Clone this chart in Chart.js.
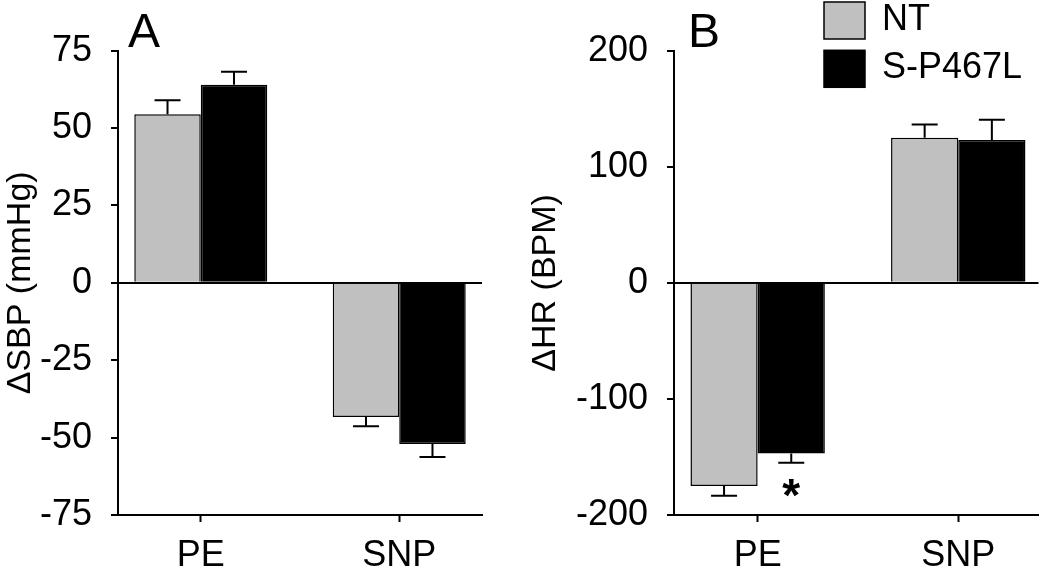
<!DOCTYPE html>
<html>
<head>
<meta charset="utf-8">
<script src="https://cdn.jsdelivr.net/npm/chart.js@4/dist/chart.umd.min.js"></script>
<style>
  html, body { margin: 0; padding: 0; background: #fff; }
  #wrap { display: flex; width: 1050px; height: 572px; }
  canvas { display: block; }
</style>
</head>
<body>
<div id="wrap">
  <canvas id="chartA" width="525" height="572"></canvas>
  <canvas id="chartB" width="525" height="572"></canvas>
</div>
<script>
// data
const categories = ['PE', 'SNP'];
const catPos = [0, 1];
const seriesNames = ['NT', 'S-P467L'];

const sbpNT = [54.5, -43.3];
const sbpNTErr = [4.5, 3.0];
const sbpSP = [64.0, -52.1];
const sbpSPErr = [4.2, 4.2];
const sbpTicks = [-75, -50, -25, 0, 25, 50, 75];

const hrNT = [-175, 125];
const hrNTErr = [8.5, 11.5];
const hrSP = [-147, 123];
const hrSPErr = [8, 17.5];
const hrNTSig = [false, false];
const hrSPSig = [true, false];
const hrTicks = [-200, -100, 0, 100, 200];

const FONT = '"Liberation Sans", Arial, sans-serif';
Chart.defaults.font.family = FONT;
Chart.defaults.color = '#000';

function toPoints(vals) {
  return vals.map((v, i) => ({ x: catPos[i], y: v }));
}

// error bars, significance star, panel letter, legend
const marks = {
  id: 'marks',
  afterDatasetsDraw(chart) {
    const ctx = chart.ctx;
    const yScale = chart.scales.y;
    ctx.save();
    ctx.strokeStyle = '#000';
    ctx.lineWidth = 2;
    chart.data.datasets.forEach((ds, i) => {
      chart.getDatasetMeta(i).data.forEach((bar, j) => {
        const v = ds.data[j].y;
        const end = yScale.getPixelForValue(v + Math.sign(v) * ds.errors[j]);
        ctx.beginPath();
        ctx.moveTo(bar.x, bar.y);
        ctx.lineTo(bar.x, end);
        ctx.moveTo(bar.x - 13, end);
        ctx.lineTo(bar.x + 13, end);
        ctx.stroke();
        if (ds.sig && ds.sig[j]) {
          ctx.fillStyle = '#000';
          ctx.font = 'bold 46px ' + FONT;
          ctx.textAlign = 'center';
          ctx.textBaseline = 'alphabetic';
          ctx.fillText('*', bar.x, v < 0 ? end + 48 : end - 8);
        }
      });
    });
    ctx.restore();
  },
  afterDraw(chart, args, o) {
    const ctx = chart.ctx;
    const area = chart.chartArea;
    ctx.save();
    ctx.fillStyle = '#000';
    ctx.font = '48px ' + FONT;
    ctx.textAlign = 'left';
    ctx.textBaseline = 'alphabetic';
    ctx.fillText(o.letter, area.left + o.letterDx, area.top - 4);
    if (o.legend) {
      chart.data.datasets.forEach((ds, i) => {
        const x = area.left + 150;
        const y = 2 + i * 48.3;
        ctx.fillStyle = ds.backgroundColor;
        ctx.fillRect(x, y, 41, 37);
        ctx.lineWidth = 1.5;
        ctx.strokeStyle = '#000';
        ctx.strokeRect(x, y, 41, 37);
        ctx.fillStyle = '#000';
        ctx.font = '36px ' + FONT;
        ctx.textBaseline = 'middle';
        ctx.fillText(ds.label, x + 58, y + 18);
      });
    }
    ctx.restore();
  }
};

function makePanel(id, cfg) {
  const barStyle = { borderColor: '#000', borderWidth: 1.5, categoryPercentage: 0.67, barPercentage: 1.0 };
  return new Chart(document.getElementById(id), {
    type: 'bar',
    data: {
      datasets: [
        Object.assign({ label: seriesNames[0], data: toPoints(cfg.nt), errors: cfg.ntErr, sig: cfg.ntSig, backgroundColor: '#c0c0c0' }, barStyle),
        Object.assign({ label: seriesNames[1], data: toPoints(cfg.sp), errors: cfg.spErr, sig: cfg.spSig, backgroundColor: '#000' }, barStyle)
      ]
    },
    options: {
      responsive: false,
      animation: false,
      events: [],
      layout: { padding: { top: 50.7, right: cfg.padRight, bottom: 0, left: 0 } },
      plugins: {
        legend: { display: false },
        tooltip: { enabled: false },
        marks: { letter: cfg.letter, letterDx: cfg.letterDx, legend: cfg.legend }
      },
      scales: {
        x: {
          type: 'linear',
          min: cfg.xMin,
          max: cfg.xMax,
          offset: false,
          afterBuildTicks: s => { s.ticks = catPos.map(v => ({ value: v })); },
          afterFit: s => { s.height = 57; },
          ticks: {
            callback: v => categories[catPos.indexOf(v)],
            font: { size: 36 },
            color: '#000',
            padding: 12,
            maxRotation: 0,
            autoSkip: false
          },
          grid: { offset: false, drawOnChartArea: false, tickLength: 7, tickColor: '#000', tickWidth: 2 },
          border: { color: '#000', width: 2 }
        },
        y: {
          min: cfg.yTicks[0],
          max: cfg.yTicks[cfg.yTicks.length - 1],
          afterBuildTicks: s => { s.ticks = cfg.yTicks.map(v => ({ value: v })); },
          afterFit: s => { s.width = cfg.yWidth; },
          ticks: { font: { size: 36 }, color: '#000', padding: 19 },
          grid: {
            color: c => (c.tick && c.tick.value === 0 ? '#000' : 'rgba(0,0,0,0)'),
            lineWidth: 2,
            tickLength: 7,
            tickColor: '#000',
            tickWidth: 2
          },
          border: { color: '#000', width: 2 },
          title: { display: true, text: cfg.yTitle, font: { size: 34 }, color: '#000', padding: 0 }
        }
      }
    },
    plugins: [marks]
  });
}

makePanel('chartA', {
  nt: sbpNT, ntErr: sbpNTErr, sp: sbpSP, spErr: sbpSPErr,
  yTicks: sbpTicks, yTitle: '\u0394SBP (mmHg)',
  yWidth: 118, padRight: 43, xMin: -0.417, xMax: 1.417,
  letter: 'A', letterDx: 10, legend: false
});

makePanel('chartB', {
  nt: hrNT, ntErr: hrNTErr, ntSig: hrNTSig, sp: hrSP, spErr: hrSPErr, spSig: hrSPSig,
  yTicks: hrTicks, yTitle: '\u0394HR (BPM)',
  yWidth: 149, padRight: 11.5, xMin: -0.417, xMax: 1.4,
  letter: 'B', letterDx: 14, legend: true
});
</script>
</body>
</html>
